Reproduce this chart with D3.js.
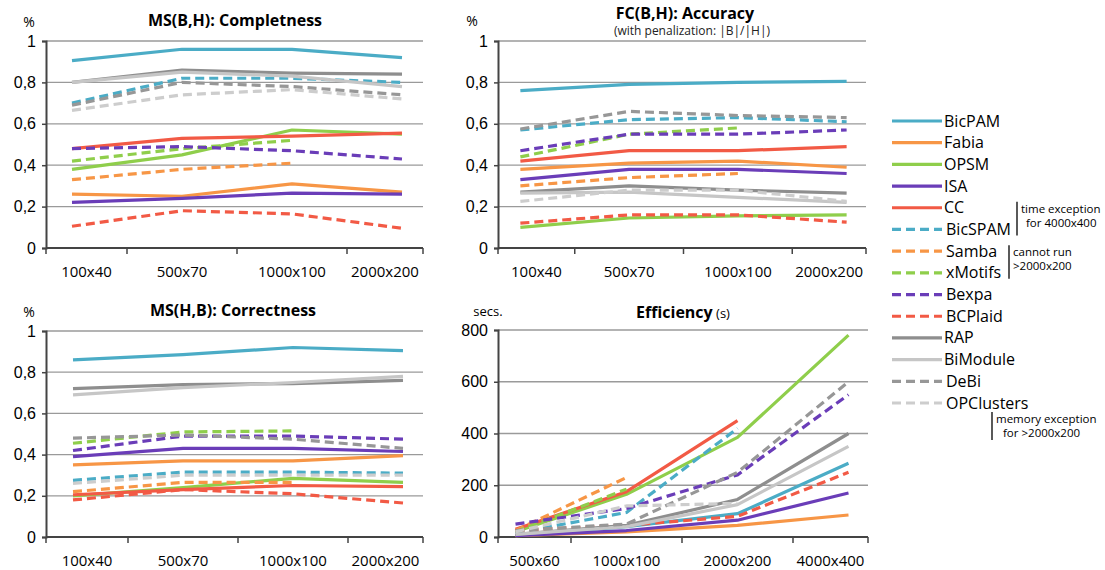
<!DOCTYPE html>
<html><head><meta charset="utf-8">
<script src="https://cdn.jsdelivr.net/npm/d3@7"></script>
<style>
body{margin:0;background:#fff;}
svg{font-family:"Open Sans","Noto Sans",sans-serif;}
</style></head>
<body><svg id="c" width="1105" height="570"></svg>
<script>
// ---------- data ----------
const seriesNames = ["BicPAM","Fabia","OPSM","ISA","CC","BicSPAM","Samba","xMotifs","Bexpa","BCPlaid","RAP","BiModule","DeBi","OPClusters"];
const seriesColors = ["#4bacc6","#f79646","#8fce4b","#6a3db8","#f25a45","#4bacc6","#f79646","#8fce4b","#6a3db8","#f25a45","#8e8e8e","#c6c6c6","#979797","#cdcdcd"];
const seriesDashed = [false,false,false,false,false,true,true,true,true,true,false,false,true,true];

const sizeCats = ["100x40","500x70","1000x100","2000x200"];
const effCats = ["500x60","1000x100","2000x200","4000x400"];
const pctTicks = [0,0.2,0.4,0.6,0.8,1];
const pctTickLabels = ["0","0,2","0,4","0,6","0,8","1"];
const secTicks = [0,200,400,600,800];

const completeness = [
  [0.905,0.96,0.96,0.92],
  [0.26,0.25,0.31,0.27],
  [0.38,0.45,0.57,0.55],
  [0.22,0.24,0.265,0.26],
  [0.48,0.53,0.54,0.555],
  [0.70,0.82,0.82,0.80],
  [0.33,0.38,0.41,null],
  [0.42,0.48,0.52,null],
  [0.48,0.49,0.47,0.43],
  [0.105,0.18,0.165,0.095],
  [0.80,0.86,0.845,0.84],
  [0.80,0.85,0.83,0.78],
  [0.69,0.80,0.78,0.74],
  [0.665,0.74,0.765,0.72]
];
const accuracy = [
  [0.76,0.79,0.80,0.805],
  [0.38,0.41,0.42,0.39],
  [0.10,0.145,0.155,0.16],
  [0.33,0.38,0.38,0.36],
  [0.42,0.47,0.47,0.49],
  [0.57,0.62,0.63,0.61],
  [0.30,0.34,0.36,null],
  [0.44,0.55,0.58,null],
  [0.47,0.55,0.55,0.57],
  [0.12,0.16,0.16,0.125],
  [0.27,0.30,0.28,0.265],
  [0.265,0.27,0.245,0.22],
  [0.575,0.66,0.64,0.63],
  [0.225,0.28,0.28,0.225]
];
const correctness = [
  [0.86,0.885,0.92,0.905],
  [0.35,0.37,0.37,0.395],
  [0.20,0.24,0.285,0.265],
  [0.39,0.43,0.43,0.415],
  [0.205,0.23,0.25,0.245],
  [0.275,0.315,0.315,0.31],
  [0.22,0.265,0.265,null],
  [0.455,0.51,0.515,null],
  [0.42,0.49,0.49,0.475],
  [0.18,0.23,0.21,0.165],
  [0.72,0.74,0.745,0.76],
  [0.69,0.725,0.75,0.78],
  [0.48,0.495,0.475,0.43],
  [0.26,0.30,0.30,0.30]
];
const efficiency = [
  [5,40,90,285],
  [5,20,45,85],
  [20,165,385,780],
  [5,25,65,170],
  [30,175,450,null],
  [15,95,420,null],
  [25,230,null,null],
  [20,185,null,null],
  [50,110,240,550],
  [25,45,80,250],
  [10,45,145,400],
  [10,40,125,350],
  [25,50,250,600],
  [20,120,130,null]
];

// ---------- drawing ----------
const svg = d3.select("#c");

function panel(cfg){
  const g = svg.append("g");
  const y = d3.scaleLinear().domain(cfg.yDomain).range([cfg.bottom, cfg.top]);
  const xb = d3.scaleBand().domain(cfg.cats).range(cfg.bandRange).padding(0);
  const xc = c => xb(c) + xb.bandwidth()/2;

  // gridlines
  g.selectAll("line.grid").data(cfg.yTicks.filter(t=>t!==cfg.yDomain[0])).enter().append("line")
    .attr("x1", cfg.left).attr("x2", cfg.right)
    .attr("y1", d=>y(d)).attr("y2", d=>y(d))
    .attr("stroke","#9a9a9a").attr("stroke-width",1.3);

  // y axis
  const ya = d3.axisLeft(y).tickValues(cfg.yTicks).tickSize(4).tickFormat((d,i)=>cfg.yLabels[i]);
  const yg = g.append("g").attr("transform",`translate(${cfg.left},0)`).call(ya);
  yg.select(".domain").attr("stroke","#444").attr("stroke-width",2);
  yg.selectAll(".tick line").attr("stroke","#444").attr("stroke-width",1.5);
  yg.selectAll(".tick text").attr("font-size",16).attr("fill","#000").attr("x",-10);

  // x axis line
  g.append("line").attr("x1",cfg.left).attr("x2",cfg.right).attr("y1",cfg.bottom).attr("y2",cfg.bottom)
    .attr("stroke","#444").attr("stroke-width",2);
  // boundary ticks clipped to axis extent
  const bounds = cfg.cats.map(c=>xb(c)).concat([xb(cfg.cats[cfg.cats.length-1])+xb.bandwidth()])
    .map(v=>Math.min(cfg.right, Math.max(cfg.left, v)));
  g.selectAll("line.xt").data(bounds).enter().append("line")
    .attr("x1",d=>d).attr("x2",d=>d).attr("y1",cfg.bottom).attr("y2",cfg.bottom+6)
    .attr("stroke","#444").attr("stroke-width",1.5);
  g.selectAll("text.xl").data(cfg.cats).enter().append("text")
    .attr("x",(d,i)=>(bounds[i]+bounds[i+1])/2).attr("y",cfg.bottom+29)
    .attr("text-anchor","middle").attr("font-size",15).attr("fill","#000").text(d=>d);

  // lines
  const line = d3.line().defined(d=>d.v!=null).x(d=>xc(d.c)).y(d=>y(d.v));
  cfg.data.forEach((vals,i)=>{
    const pts = vals.map((v,j)=>({c:cfg.cats[j], v:v}));
    g.append("path").datum(pts).attr("d",line)
      .attr("fill","none").attr("stroke",seriesColors[i])
      .attr("stroke-width",3.2).attr("stroke-linejoin","round")
      .attr("stroke-dasharray", seriesDashed[i] ? "9,5" : null);
  });

  // titles
  const t = g.append("text").attr("x",cfg.titleX).attr("y",cfg.titleY)
    .attr("text-anchor","middle").attr("font-size",16).attr("font-weight","bold").attr("fill","#000");
  t.append("tspan").text(cfg.title);
  if(cfg.titleSuffix){ t.append("tspan").attr("font-weight","normal").attr("font-size",13).text(" "+cfg.titleSuffix); }
  if(cfg.subtitle){
    g.append("text").attr("x",cfg.subX).attr("y",cfg.subY).attr("text-anchor","middle")
      .attr("font-size",12).attr("fill","#222").text(cfg.subtitle);
  }
  g.append("text").attr("x",cfg.unitX).attr("y",cfg.unitY).attr("text-anchor","middle")
    .attr("font-size",cfg.unitSize||14).attr("fill","#000").text(cfg.unit);
}

panel({cats:sizeCats, data:completeness, yDomain:[0,1], yTicks:pctTicks, yLabels:pctTickLabels,
  left:46, right:423, top:41, bottom:248, bandRange:[17,457],
  title:"MS(B,H): Completness", titleX:235, titleY:26, unit:"%", unitX:29, unitY:27});
panel({cats:sizeCats, data:accuracy, yDomain:[0,1], yTicks:pctTicks, yLabels:pctTickLabels,
  left:498, right:866, top:41, bottom:248, bandRange:[466,901],
  title:"FC(B,H): Accuracy", titleX:685, titleY:19, subtitle:"(with penalization: |B|/|H|)", subX:692, subY:35,
  unit:"%", unitX:472, unitY:26});
panel({cats:sizeCats, data:correctness, yDomain:[0,1], yTicks:pctTicks, yLabels:pctTickLabels,
  left:46, right:423, top:331, bottom:537, bandRange:[18,458],
  title:"MS(H,B): Correctness", titleX:233, titleY:316, unit:"%", unitX:29, unitY:317});
panel({cats:effCats, data:efficiency, yDomain:[0,800], yTicks:secTicks, yLabels:secTicks.map(String),
  left:498, right:868, top:330, bottom:537, bandRange:[460,904],
  title:"Efficiency", titleSuffix:"(s)", titleX:683, titleY:318, unit:"secs.", unitSize:13, unitX:488, unitY:316});

// legend
const lg = svg.append("g");
const ly = d3.scalePoint().domain(seriesNames).range([121,403]);
seriesNames.forEach((n,i)=>{
  lg.append("line").attr("x1",892).attr("x2",942).attr("y1",ly(n)).attr("y2",ly(n))
    .attr("stroke",seriesColors[i]).attr("stroke-width",3.2)
    .attr("stroke-dasharray", seriesDashed[i] ? "9,5" : null);
  lg.append("text").attr("x", seriesDashed[i] ? 946 : 944).attr("y",ly(n)+5.5)
    .attr("font-size",16).attr("fill","#000").text(n);
});
function note(x, y1, y2, lines, tx){
  lg.append("line").attr("x1",x).attr("x2",x).attr("y1",y1).attr("y2",y2).attr("stroke","#000").attr("stroke-width",1.3);
  lines.forEach((s,k)=>{
    lg.append("text").attr("x",tx[k]).attr("y",y1+11+k*14).attr("font-size",11.5).attr("fill","#000").text(s);
  });
}
note(1017, ly("CC")-6, ly("BicSPAM")+6, ["time exception","for 4000x400"], [1021,1026]);
note(1009, ly("Samba")-6, ly("xMotifs")+6, ["cannot run",">2000x200"], [1013,1013]);
note(992, ly("OPClusters")+9, ly("OPClusters")+37, ["memory exception","for >2000x200"], [996,1003]);
</script></body></html>
